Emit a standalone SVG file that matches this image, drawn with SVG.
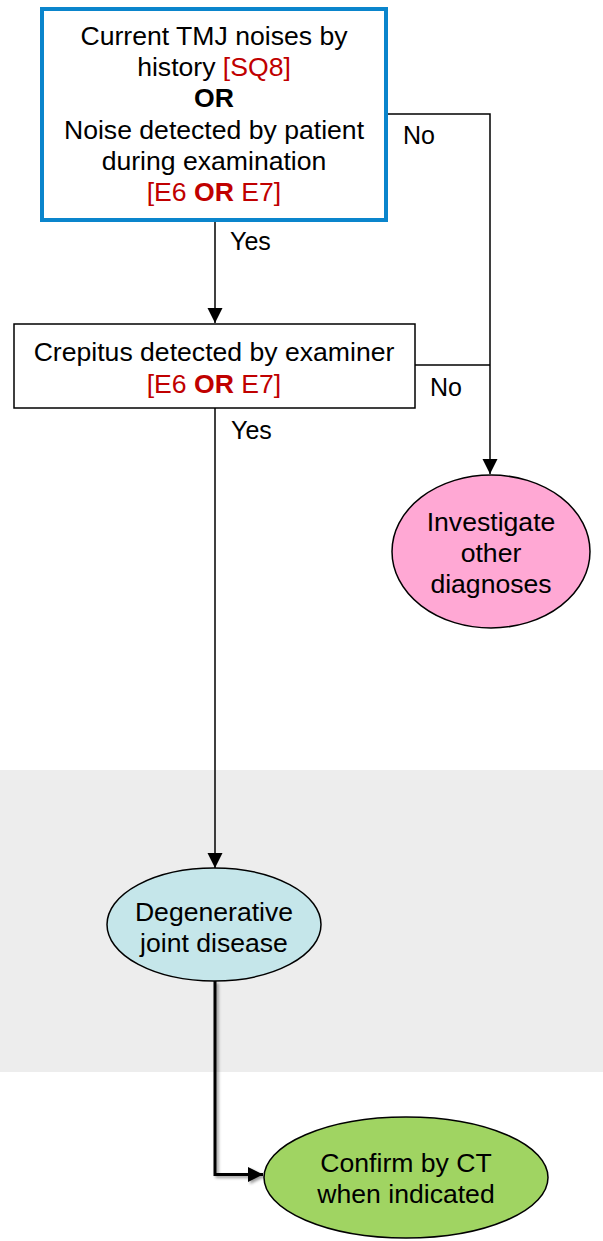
<svg xmlns="http://www.w3.org/2000/svg" width="603" height="1241" viewBox="0 0 603 1241">
<defs>
<style>
text{font-family:"Liberation Sans",Arial,sans-serif;font-size:26.6px;fill:#000;text-anchor:middle}
.lbl{font-size:25px;text-anchor:start}
.red{fill:#C00000}
.b{font-weight:bold}
.line{fill:none;stroke:#000;stroke-width:1.5}
.thick{fill:none;stroke:#000;stroke-width:3}
</style>
<marker id="arr" markerWidth="16" markerHeight="16" refX="15" refY="7.5" orient="auto" markerUnits="userSpaceOnUse">
<path d="M0,0 L15,7.5 L0,15 Z" fill="#000"/>
</marker>
<filter id="sh" x="-20%" y="-20%" width="140%" height="140%">
<feGaussianBlur in="SourceAlpha" stdDeviation="1.5"/>
<feOffset dx="2" dy="2" result="o"/>
<feComponentTransfer><feFuncA type="linear" slope="0.4"/></feComponentTransfer>
<feMerge><feMergeNode/><feMergeNode in="SourceGraphic"/></feMerge>
</filter>
</defs>
<rect width="603" height="1241" fill="#fff"/>
<rect id="band" x="0" y="770" width="603" height="302" fill="#EDEDED"/>
<g id="connectors">
<line class="line" x1="215" y1="222" x2="215" y2="323" marker-end="url(#arr)"/>
<polyline class="line" points="387,114 490,114 490,474" marker-end="url(#arr)"/>
<line class="line" x1="415" y1="365" x2="490" y2="365"/>
<line class="line" x1="215" y1="408" x2="215" y2="868" marker-end="url(#arr)"/>
<polyline class="thick" points="215,981 215,1174.5 263,1174.5" marker-end="url(#arr)" filter="url(#sh)"/>
<text class="lbl" x="230" y="250">Yes</text>
<text class="lbl" x="403" y="144">No</text>
<text class="lbl" x="430" y="396">No</text>
<text class="lbl" x="231" y="439">Yes</text>
</g>
<g id="n1">
<rect x="42" y="9" width="344" height="211" fill="#fff" stroke="#0A85CC" stroke-width="4"/>
<text x="214" y="45">Current TMJ noises by</text>
<text x="214" y="76">history <tspan class="red">[SQ8]</tspan></text>
<text x="214" y="107" class="b">OR</text>
<text x="214" y="139">Noise detected by patient</text>
<text x="214" y="170">during examination</text>
<text x="214" y="201" class="red">[E6 <tspan class="b">OR</tspan> E7]</text>
</g>
<g id="n2">
<rect x="14" y="324" width="401" height="84" fill="#fff" stroke="#000" stroke-width="1.5"/>
<text x="214" y="361">Crepitus detected by examiner</text>
<text x="214" y="393" class="red">[E6 <tspan class="b">OR</tspan> E7]</text>
</g>
<g id="n3">
<ellipse cx="491" cy="551.5" rx="99" ry="76.5" fill="#FFA8D4" stroke="#000" stroke-width="1.5"/>
<text x="491" y="531">Investigate</text>
<text x="491" y="562">other</text>
<text x="491" y="593">diagnoses</text>
</g>
<g id="n4">
<ellipse cx="214" cy="924.5" rx="107" ry="56.5" fill="#C5E6EA" stroke="#000" stroke-width="1.5"/>
<text x="214" y="921">Degenerative</text>
<text x="214" y="952">joint disease</text>
</g>
<g id="n5">
<ellipse cx="406" cy="1177.5" rx="142" ry="60.5" fill="#A0D462" stroke="#000" stroke-width="1.5"/>
<text x="406" y="1172">Confirm by CT</text>
<text x="406" y="1203">when indicated</text>
</g>
</svg>
